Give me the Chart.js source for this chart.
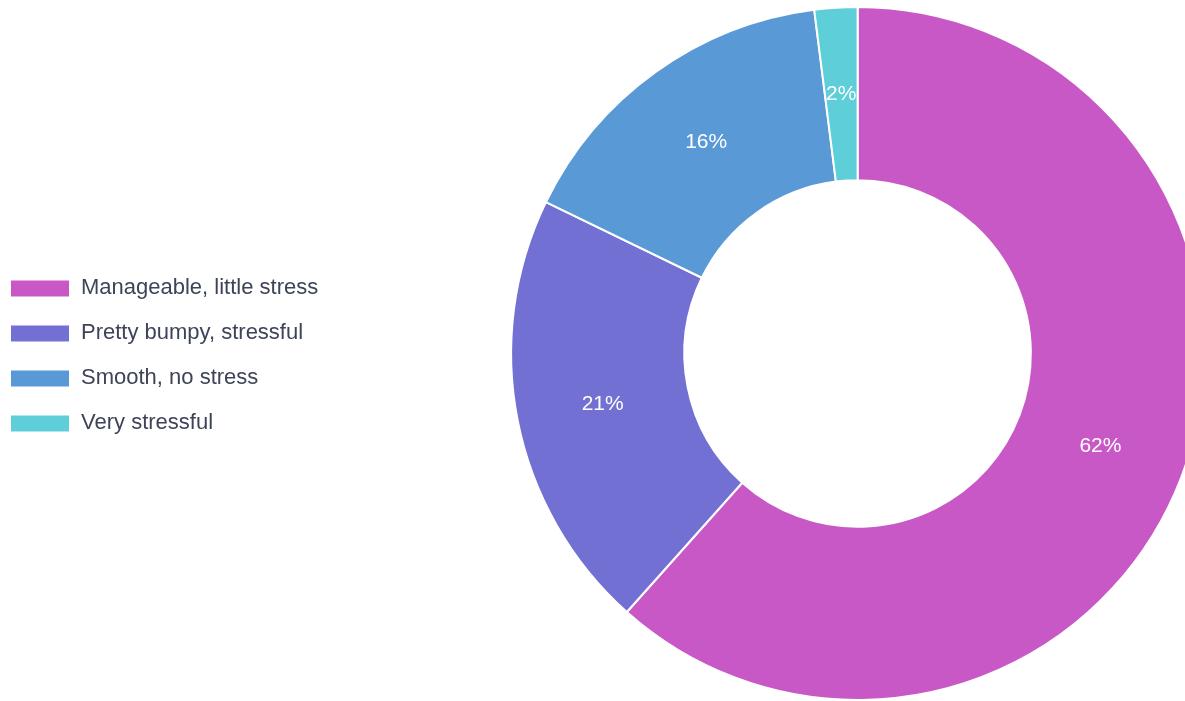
<!DOCTYPE html>
<html>
<head>
<meta charset="utf-8">
<script src="https://cdn.jsdelivr.net/npm/chart.js@4.4.0/dist/chart.umd.min.js"></script>
<style>
  html, body { margin: 0; padding: 0; background: #fff; overflow: hidden; }
  #wrap { position: absolute; left: -13px; top: 2px; width: 1400px; height: 701px; }
</style>
</head>
<body>
<div id="wrap"><canvas id="chart"></canvas></div>
<script>
const labels = ['Manageable, little stress', 'Pretty bumpy, stressful', 'Smooth, no stress', 'Very stressful'];
const values = [61.6, 20.6, 15.8, 2.0];
const colors = ['#c858c6', '#7370d4', '#5899d6', '#5ecfd8'];

// Plugin for percent labels inside slices
const sliceLabels = {
  id: 'sliceLabels',
  afterDatasetsDraw(chart) {
    const ctx = chart.ctx;
    const meta = chart.getDatasetMeta(0);
    const total = values.reduce((a, b) => a + b, 0);
    ctx.save();
    ctx.fillStyle = '#ffffff';
    ctx.font = '21px "Liberation Sans", Arial, sans-serif';
    ctx.textAlign = 'center';
    ctx.textBaseline = 'middle';
    meta.data.forEach((arc, i) => {
      const pos = arc.tooltipPosition();
      ctx.fillText(Math.round(values[i] / total * 100) + '%', pos.x, pos.y);
    });
    ctx.restore();
  }
};

new Chart(document.getElementById('chart'), {
  type: 'doughnut',
  data: {
    labels,
    datasets: [{
      data: values,
      backgroundColor: colors,
      borderColor: '#ffffff',
      borderWidth: 2
    }]
  },
  options: {
    responsive: true,
    maintainAspectRatio: false,
    animation: false,
    cutout: '50%',
    layout: { padding: { top: 4, bottom: 2 } },
    events: [],
    plugins: {
      tooltip: { enabled: false },
      legend: {
        position: 'left',
        title: { display: true, text: '', padding: 0, font: { size: 4 } },
        labels: {
          boxWidth: 60,
          boxHeight: 18,
          padding: 23,
          color: '#3d4458',
          font: { family: '"Liberation Sans", Arial, sans-serif', size: 22 }
        }
      }
    }
  },
  plugins: [sliceLabels]
});
</script>
</body>
</html>
